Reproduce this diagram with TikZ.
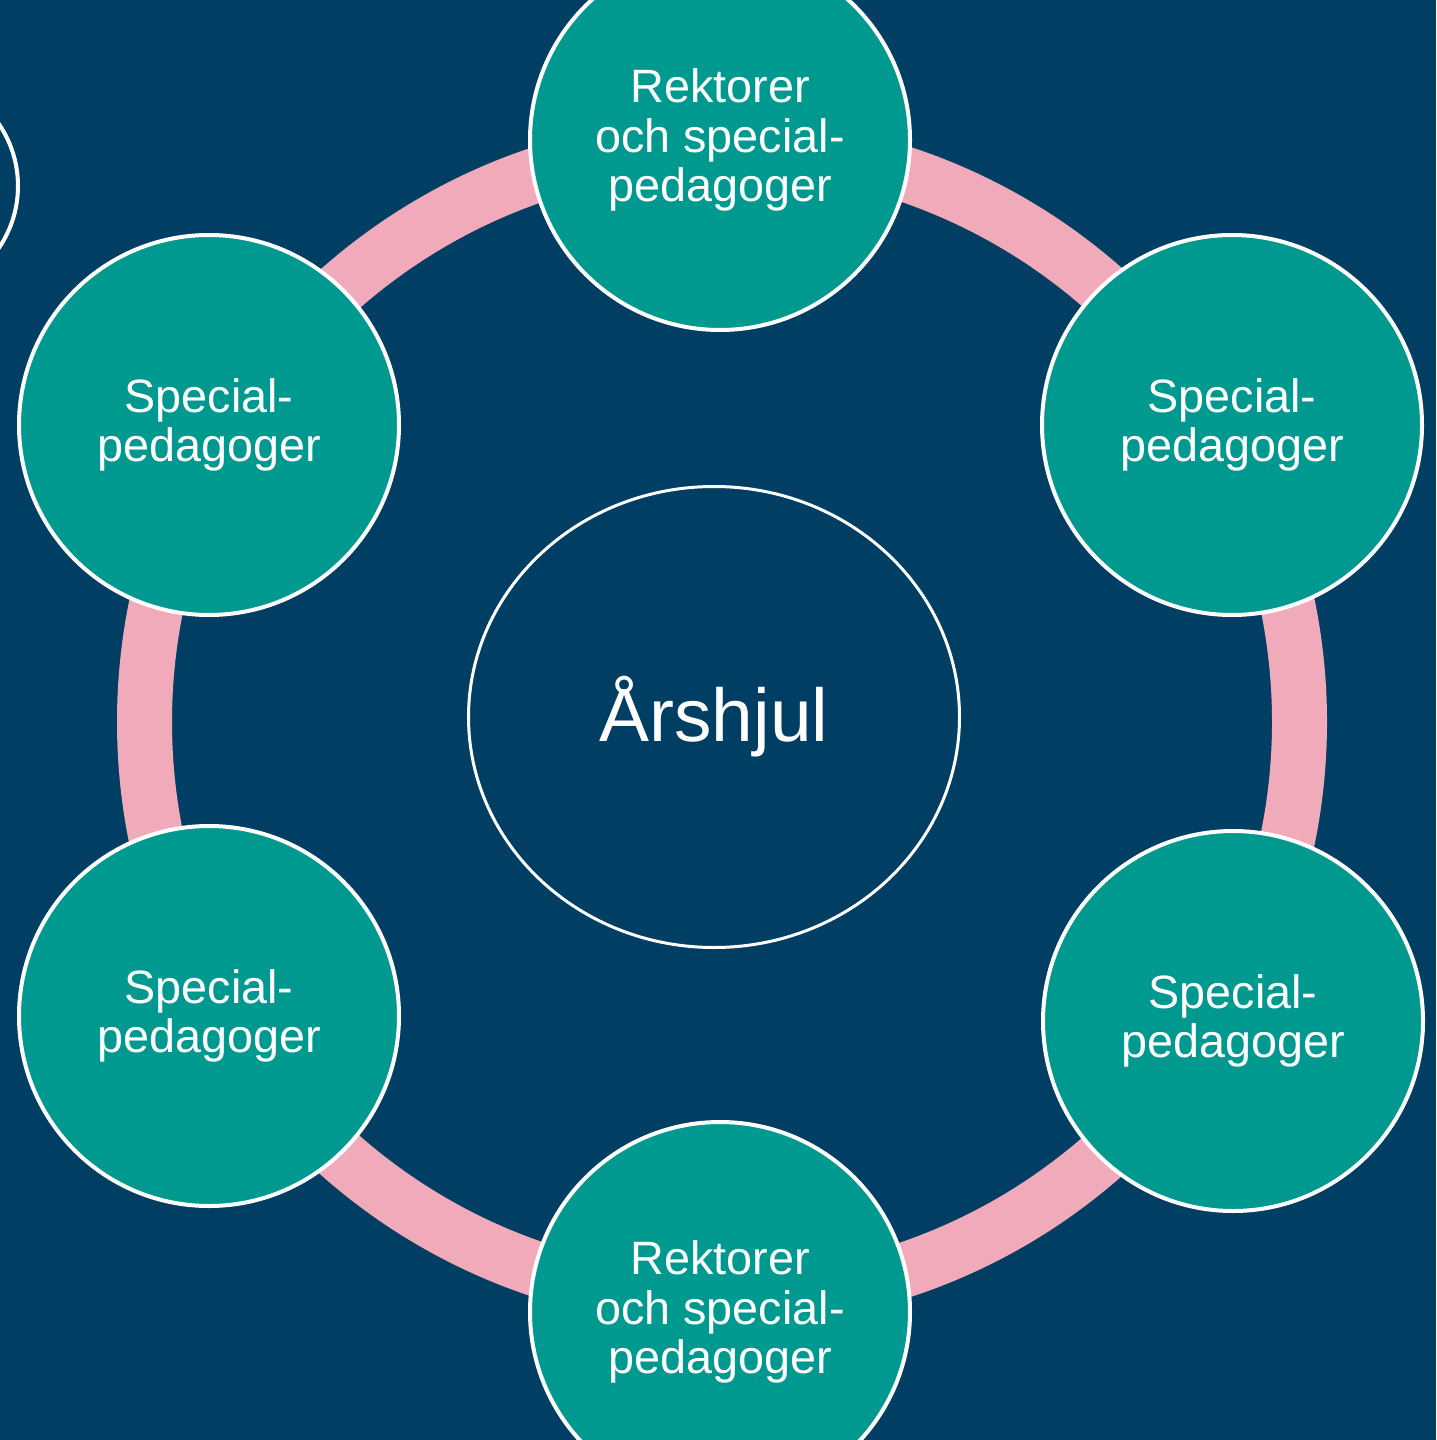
\documentclass[tikz,border=0pt]{standalone}
\usepackage{fontspec}
\setmainfont{Liberation Sans}
\usetikzlibrary{shapes.geometric}
\definecolor{navy}{HTML}{003E63}
\definecolor{tealfill}{HTML}{00998F}
\definecolor{pinkring}{HTML}{F0AAB9}
\begin{document}
\begin{tikzpicture}[x=0.1mm,y=-0.1mm,
  member/.style={circle, draw=white, line width=0.4mm, fill=tealfill,
    minimum size=38mm, inner sep=0pt, align=center, text=white,
    font=\fontsize{13.3}{14}\selectfont},
  hub/.style={ellipse, draw=white, line width=0.3mm, fill=navy,
    minimum width=49.1mm, minimum height=46.1mm, inner sep=0pt,
    text=white, font=\fontsize{21.3}{24}\selectfont},
  ringline/.style={draw=pinkring, line width=5.5mm},
  ghost/.style={circle, draw=white, line width=0.4mm, minimum size=22mm, inner sep=0pt}
]
\fill[navy] (0,0) rectangle (1436,1440);
\useasboundingbox (0,0) rectangle (1436,1440);
\begin{scope}
\clip (0,0) rectangle (1436,1440);
\coordinate (wheelc) at (722,722);
\draw[ringline] (wheelc) circle[radius=57.75mm];
\node[ghost] (prev) at (-92,186) {};
\node[member] (top) at (720,140) {Rektorer\\och special-\\pedagoger};
\node[member] (rt) at (1232,425) {Special-\\pedagoger};
\node[member] (rb) at (1233,1021) {Special-\\pedagoger};
\node[member] (bot) at (720,1312) {Rektorer\\och special-\\pedagoger};
\node[member] (lb) at (209,1016) {Special-\\pedagoger};
\node[member] (lt) at (209,425) {Special-\\pedagoger};
\node[hub] (center) at (714,717) {Årshjul};
\end{scope}
\end{tikzpicture}
\end{document}
